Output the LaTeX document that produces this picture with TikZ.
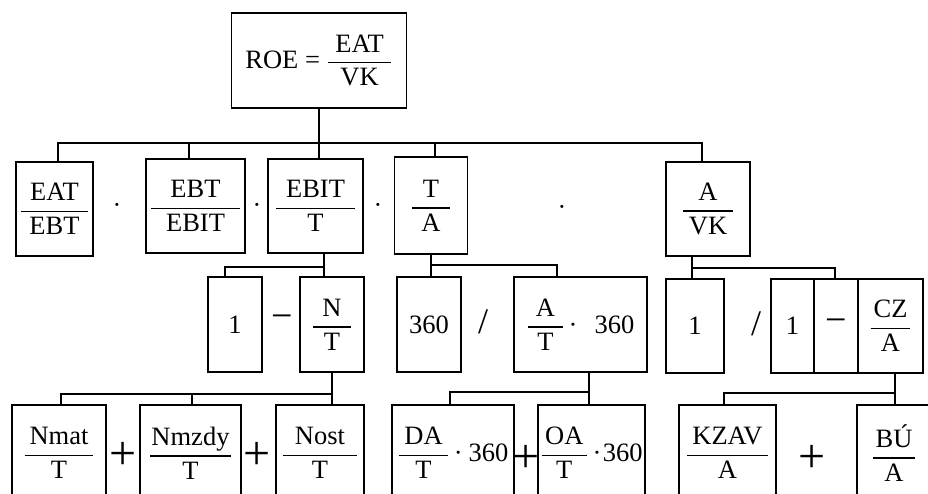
\documentclass[tikz,border=0pt]{standalone}
\usepackage{amsmath}
\usepackage{fontspec}
\setmainfont{Liberation Serif}
\usepackage{tikz}
\newcommand\frc[3][5pt]{\genfrac{}{}{1.5pt}{0}{\hspace{#1}\text{#2}\hspace{#1}}{\hspace{#1}\text{#3}\hspace{#1}}}

\begin{document}
\begin{tikzpicture}[
  x=1pt,y=-1pt,font=\fontsize{26.5}{31}\selectfont,
  box/.style 2 args={rectangle,draw,line width=1.8pt,inner sep=0pt,align=center,
              minimum width=#1,minimum height=#2},
  op/.style={inner sep=0pt,font=\fontsize{#1}{#1}\selectfont},
  ln/.style={line width=1.8pt,draw=black}
]
\useasboundingbox (0,0) rectangle (928,493);
\clip (0,0) rectangle (928,493);

%======================= TOP : ROE =======================
\node[box={175pt}{95pt}] (roe) at (319,60.5) {$\text{ROE = }\frc[7.5pt]{EAT}{VK}$};

%======================= ROW 2 (y = 160..255) =======================
\node[box={77pt}{94pt}] (eat)  at (54.5,209)   {$\frc[8.5pt]{EAT}{EBT}$};
\node[op=26] (dt1) at (117,208) {·};
\node[box={99pt}{94pt}] (ebt)  at (195.5,206)  {$\frc[15pt]{EBT}{EBIT}$};
\node[op=26] (dt2) at (257,208) {·};
\node[box={95pt}{94pt}] (ebit) at (315.5,206)  {$\frc[10pt]{EBIT}{T}$};
\node[op=26] (dt3) at (378,208) {·};
\node[box={73pt}{97pt}] (ta)   at (431,205.5)  {$\frc[9pt]{T}{A}$};
\node[op=26] (dt4) at (562,210) {·};
\node[box={84pt}{94pt}] (avk)  at (708,209)    {$\frc[6pt]{A}{VK}$};

\foreach \n/\s in {eat/3.5,ebt/-6.5,ebit/3.5,ta/4,avk/-6}
  \draw[ln] (roe.south) -- ++(0,34) -| ([xshift=\s pt]\n.north);

%======================= ROW 3 (y = 277..372) =======================
\node[box={54pt}{95pt}] (one)  at (235,324.5) {1};
\node[op=38] (mi) at (282,322) {−};
\node[box={64pt}{95pt}] (nt)   at (332,324.5) {$\frc[9.5pt]{N}{T}$};
\node[box={64pt}{95pt}] (kd)   at (429,324.5) {360};
\node[op=36] (sl1) at (483,322) {/};
\node[box={133pt}{95pt}] (at)  at (580.5,324.5) {$\frc[8pt]{A}{T}\text{\,·\hspace{17pt}360}$};
\node[box={58pt}{94pt}] (onea) at (695,326) {1};
\node[op=36] (sl2) at (756,324) {/};
\node[box={43pt}{94pt}] (oneb) at (792.5,326) {1};
\node[box={44pt}{94pt},font=\fontsize{38}{38}\selectfont] (mib) at (836,326) {−};
\node[box={65pt}{94pt}] (cza)  at (890.5,326) {$\frc[3pt]{CZ}{A}$};

\foreach \n/\s in {one/-10,nt/-8}
  \draw[ln] ([xshift=8.5pt]ebit.south) -- ++(0,13) -| ([xshift=\s pt]\n.north);
\foreach \n/\s in {kd/2,at/-23.5}
  \draw[ln] (ta.south) -- ++(0,10) -| ([xshift=\s pt]\n.north);
\foreach \n/\s in {onea/-3,mib/-1}
  \draw[ln] ([xshift=-16pt]avk.south) -- ++(0,11) -| ([xshift=\s pt]\n.north);

%======================= ROW 4 (y = 405..) =======================
\node[box={94pt}{96pt}]  (nmat)  at (59,453)    {$\frc[5pt]{Nmat}{T}$};
\node[op=48] (pl1) at (123,456) {+};
\node[box={101pt}{96pt}] (nmzdy) at (190.5,453) {$\frc[1pt]{Nmzdy}{T}$};
\node[op=48] (pl2) at (257,456) {+};
\node[box={88pt}{96pt}]  (nost)  at (320,453)   {$\frc[12pt]{Nost}{T}$};
\node[box={122pt}{96pt}] (da)    at (453,453)   {$\frc[5.5pt]{DA}{T}\text{\,·\hspace{6pt}360}$};
\node[op=48] (pl3) at (526.5,459) {+};
\node[box={107pt}{96pt}] (oa)    at (591.5,453) {$\frc[3.5pt]{OA}{T}\text{\,·\hspace{1.5pt}360}$};
\node[box={97pt}{96pt}]  (kzav)  at (727.5,453) {$\frc[5pt]{KZAV}{A}$};
\node[op=48] (pl4) at (812,459) {+};
\node[box={74pt}{96pt}]  (bu)    at (894,453)   {$\frc[2.5pt]{BÚ}{A}$};

\foreach \n/\s in {nmat/2,nmzdy/1.5,nost/12}
  \draw[ln] (nt.south) -- ++(0,21) -| ([xshift=\s pt]\n.north);
\foreach \n/\s in {da/-3,oa/-2.5}
  \draw[ln] ([xshift=8.5pt]at.south) -- ++(0,19) -| ([xshift=\s pt]\n.north);
\foreach \n/\s in {kzav/-3.5,bu/1}
  \draw[ln] ([xshift=4.5pt]cza.south) -- ++(0,19) -| ([xshift=\s pt]\n.north);

\end{tikzpicture}
\end{document}
